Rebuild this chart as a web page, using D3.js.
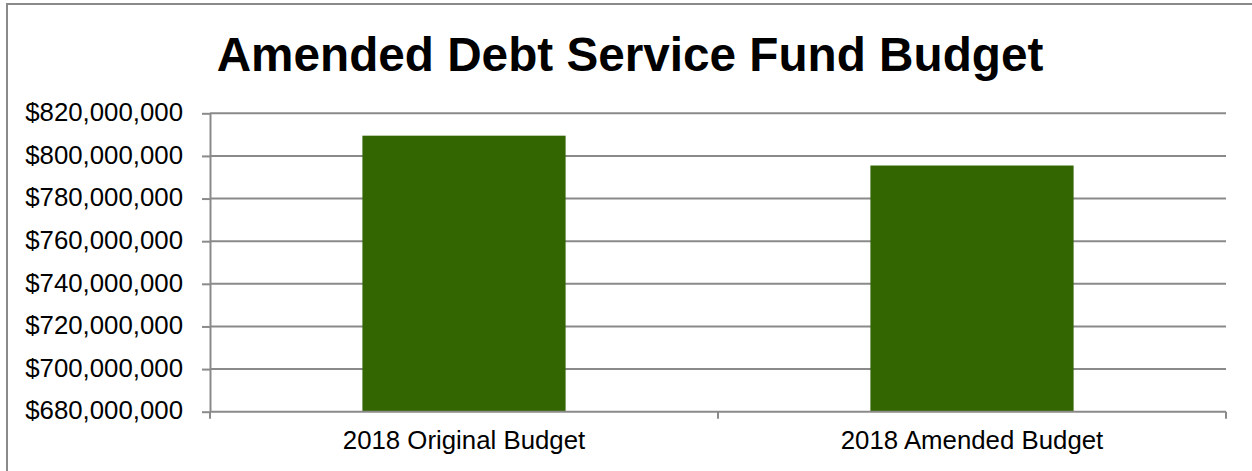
<!DOCTYPE html>
<html>
<head>
<meta charset="utf-8">
<script src="https://cdn.jsdelivr.net/npm/d3@7"></script>
<style>
  html, body { margin: 0; padding: 0; background: #fff; }
  svg { display: block; font-family: "Liberation Sans", Arial, sans-serif; }
</style>
</head>
<body>
<svg id="chart" width="1252" height="471"></svg>
<script>
// Budget figures (dollars)
const categories = ["2018 Original Budget", "2018 Amended Budget"];
const budgetValues = [809500000, 795500000];
const yTickValues = [680000000, 700000000, 720000000, 740000000, 760000000, 780000000, 800000000, 820000000];
const chartTitle = "Amended Debt Service Fund Budget";

const svg = d3.select("#chart");
const W = 1252, H = 471;
const plot = { left: 210, right: 1226, top: 113.3, bottom: 411.7 };
const gridColor = "#8a8a8a";

// Outer chart frame (runs past the right and bottom edges)
svg.append("rect")
  .attr("x", 7).attr("y", 4)
  .attr("width", W + 20).attr("height", H + 20)
  .attr("fill", "none")
  .attr("stroke", gridColor)
  .attr("stroke-width", 2);

// Title
svg.append("text")
  .attr("x", 630).attr("y", 71)
  .attr("text-anchor", "middle")
  .attr("font-size", 47.7)
  .attr("font-weight", "bold")
  .attr("fill", "#000")
  .text(chartTitle);

const x = d3.scaleBand()
  .domain(categories)
  .range([plot.left, plot.right])
  .paddingInner(0.6)
  .paddingOuter(0.3);

const y = d3.scaleLinear()
  .domain([680000000, 820000000])
  .range([plot.bottom, plot.top]);

const fmt = v => "$" + d3.format(",")(v);

// Horizontal gridlines
svg.append("g")
  .selectAll("line")
  .data(yTickValues.filter(v => v !== 680000000))
  .join("line")
  .attr("x1", plot.left).attr("x2", plot.right)
  .attr("y1", d => y(d)).attr("y2", d => y(d))
  .attr("stroke", gridColor)
  .attr("stroke-width", 2);

// Bars
svg.append("g")
  .selectAll("rect")
  .data(categories.map((c, i) => ({ c, v: budgetValues[i] })))
  .join("rect")
  .attr("x", d => x(d.c))
  .attr("width", x.bandwidth())
  .attr("y", d => y(d.v))
  .attr("height", d => y(680000000) - y(d.v))
  .attr("fill", "#336600");

// Y axis
const yAxis = svg.append("g")
  .attr("transform", `translate(${plot.left},0)`)
  .call(d3.axisLeft(y).tickValues(yTickValues).tickFormat(fmt).tickSize(8).tickSizeOuter(0).tickPadding(19));
yAxis.select(".domain").attr("stroke", gridColor).attr("stroke-width", 2);
yAxis.selectAll(".tick line").attr("stroke", gridColor).attr("stroke-width", 2);
yAxis.selectAll(".tick text")
  .attr("font-size", 25.8)
  .attr("font-family", "'Liberation Sans', Arial, sans-serif")
  .attr("fill", "#000")
  .attr("dy", "0.28em");

// X axis with boundary ticks between categories
const xAxisG = svg.append("g");
xAxisG.append("line")
  .attr("x1", plot.left).attr("x2", plot.right)
  .attr("y1", plot.bottom).attr("y2", plot.bottom)
  .attr("stroke", gridColor).attr("stroke-width", 2);
const boundaries = [plot.left].concat(categories.map(c => x(c) + x.bandwidth() / 2 + x.step() / 2));
xAxisG.selectAll("line.bt")
  .data(boundaries)
  .join("line")
  .attr("class", "bt")
  .attr("x1", d => d).attr("x2", d => d)
  .attr("y1", plot.bottom).attr("y2", plot.bottom + 7)
  .attr("stroke", gridColor).attr("stroke-width", 2);
xAxisG.selectAll("text")
  .data(categories)
  .join("text")
  .attr("x", d => x(d) + x.bandwidth() / 2)
  .attr("y", 449)
  .attr("text-anchor", "middle")
  .attr("font-size", 25.8)
  .attr("fill", "#000")
  .text(d => d);
</script>
</body>
</html>
